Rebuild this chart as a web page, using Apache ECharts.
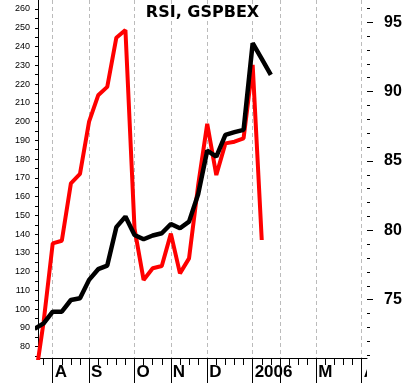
<!DOCTYPE html>
<html>
<head>
<meta charset="utf-8">
<script src="https://cdn.jsdelivr.net/npm/echarts@6/dist/echarts.min.js"></script>
<style>
html,body{margin:0;padding:0;background:#fff;}
#chart{width:405px;height:383px;}
</style>
</head>
<body>
<div id="chart"></div>
<script>
// week index (0 = first week of August)
const monthWeeks = [0, 4, 9, 13, 17, 22, 25, 29, 34];
const monthLabels = ['A', 'S', 'O', 'N', 'D', '2006', '', 'M', 'A'];

const redWeeks = [-2,-1,0,1,2,3,4,5,6,7,8,9,10,11,12,13,14,15,16,17,18,19,20,21,22,23];
const redValues = [60, 93.3, 135.1, 136.5, 167.1, 172.1, 200, 214, 218.5, 244.7, 248.8, 143,
  115.6, 121.8, 123, 140.3, 119.1, 127.1, 166, 198.8, 171.5, 188.4, 189.3, 191.1, 230.2, 136.9];

const blackWeeks = [-2,-1,0,1,2,3,4,5,6,7,8,9,10,11,12,13,14,15,16,17,18,19,20,21,22,23,24];
const blackValues = [72.9, 73.3, 74.14, 74.14, 74.98, 75.1, 76.43, 77.2, 77.46, 80.23, 80.99, 79.67,
  79.36, 79.63, 79.79, 80.46, 80.15, 80.63, 82.6, 85.75, 85.32, 86.88, 87.08, 87.24, 93.49, 92.36, 91.21];

const leftLabelValues = [80,90,100,110,120,130,140,150,160,170,180,190,200,210,220,230,240,250,260];
const leftTickValues = [75,80,85,90,95,100,105,110,115,120,125,130,135,140,145,150,155,160,165,170,175,180,185,190,195,200,205,210,215,220,225,230,235,240,245,250,255,260];
const rightLabelValues = [75, 80, 85, 90, 95];
const rightMinorValues = [71,72,73,74,75,76,77,78,79,80,81,82,83,84,85,86,87,88,89,90,91,92,93,94,95,96];
const weekTickValues = [-1,0,1,2,3,4,5,6,7,8,9,10,11,12,13,14,15,16,17,18,19,20,21,22,23,24,25,26,27,28,29,30,31,32,33,34];

const X_MIN = -1.62, X_MAX = 34.58;
const L_MIN = 74, L_MAX = 264.8;
const R_MIN = 70.8, R_MAX = 96.6;

const zip = (a, b) => a.map((v, i) => [v, b[i]]);

const chart = echarts.init(document.getElementById('chart'), null, {renderer: 'canvas'});
chart.setOption({
  animation: false,
  backgroundColor: '#fff',
  title: {
    text: 'RSI, GSPBEX',
    left: 'center',
    top: 5,
    padding: 0,
    backgroundColor: '#fff',
    z: 10,
    textStyle: {fontFamily: 'DejaVu Sans', fontWeight: 'bold', fontSize: 16, color: '#000'}
  },
  grid: {left: 38, right: 38, top: 0, bottom: 25, containLabel: false},
  xAxis: [
    {
      type: 'value', min: X_MIN, max: X_MAX, position: 'bottom',
      axisLine: {show: true, onZero: false, lineStyle: {color: '#000', width: 1}},
      axisTick: {show: true, customValues: weekTickValues, length: 7, lineStyle: {color: '#000', width: 1}},
      axisLabel: {show: false},
      splitLine: {show: false}
    },
    {
      type: 'value', min: X_MIN, max: X_MAX, position: 'bottom',
      axisLine: {show: false, onZero: false},
      axisTick: {show: true, customValues: monthWeeks, length: 25, lineStyle: {color: '#000', width: 1}},
      axisLabel: {
        show: true, customValues: monthWeeks,
        formatter: v => monthLabels[monthWeeks.indexOf(v)] || '',
        align: 'left', margin: 6, padding: [0, 0, 0, 2],
        fontFamily: 'Liberation Sans', fontWeight: 'bold', fontSize: 17, color: '#000'
      },
      splitLine: {show: true, lineStyle: {color: '#bbbbbb', width: 1, type: [4, 3]}}
    }
  ],
  yAxis: [
    {
      type: 'value', min: L_MIN, max: L_MAX, position: 'left',
      axisLine: {show: true, onZero: false, lineStyle: {color: '#000', width: 1}},
      axisTick: {show: true, customValues: leftTickValues, length: 3, lineStyle: {color: '#000'}},
      axisLabel: {show: true, customValues: leftLabelValues, margin: 8, fontFamily: 'Liberation Sans', fontSize: 9, color: '#000'},
      splitLine: {show: false}
    },
    {
      type: 'value', min: R_MIN, max: R_MAX, position: 'right',
      axisLine: {show: false, onZero: false},
      axisTick: {show: true, customValues: rightMinorValues, length: 3, lineStyle: {color: '#000'}},
      axisLabel: {show: false},
      splitLine: {show: false}
    },
    {
      type: 'value', min: R_MIN, max: R_MAX, position: 'right',
      axisLine: {show: false, onZero: false},
      axisTick: {show: true, customValues: rightLabelValues, length: 6, lineStyle: {color: '#000'}},
      axisLabel: {show: true, customValues: rightLabelValues, margin: 17, fontFamily: 'Liberation Sans', fontWeight: 'bold', fontSize: 16, color: '#000'},
      splitLine: {show: false}
    }
  ],
  graphic: [
    {type: 'rect', left: 367, top: 359, shape: {width: 38, height: 24}, style: {fill: '#fff'}, z: 100}
  ],
  series: [
    {
      name: 'RSI', type: 'line', xAxisIndex: 0, yAxisIndex: 0,
      data: zip(redWeeks, redValues), showSymbol: false, symbol: 'none',
      lineStyle: {color: '#ff0000', width: 4}, z: 2
    },
    {
      name: 'GSPBEX', type: 'line', xAxisIndex: 0, yAxisIndex: 1,
      data: zip(blackWeeks, blackValues), showSymbol: false, symbol: 'none',
      lineStyle: {color: '#000000', width: 4.5}, z: 3
    }
  ]
});
</script>
</body>
</html>
